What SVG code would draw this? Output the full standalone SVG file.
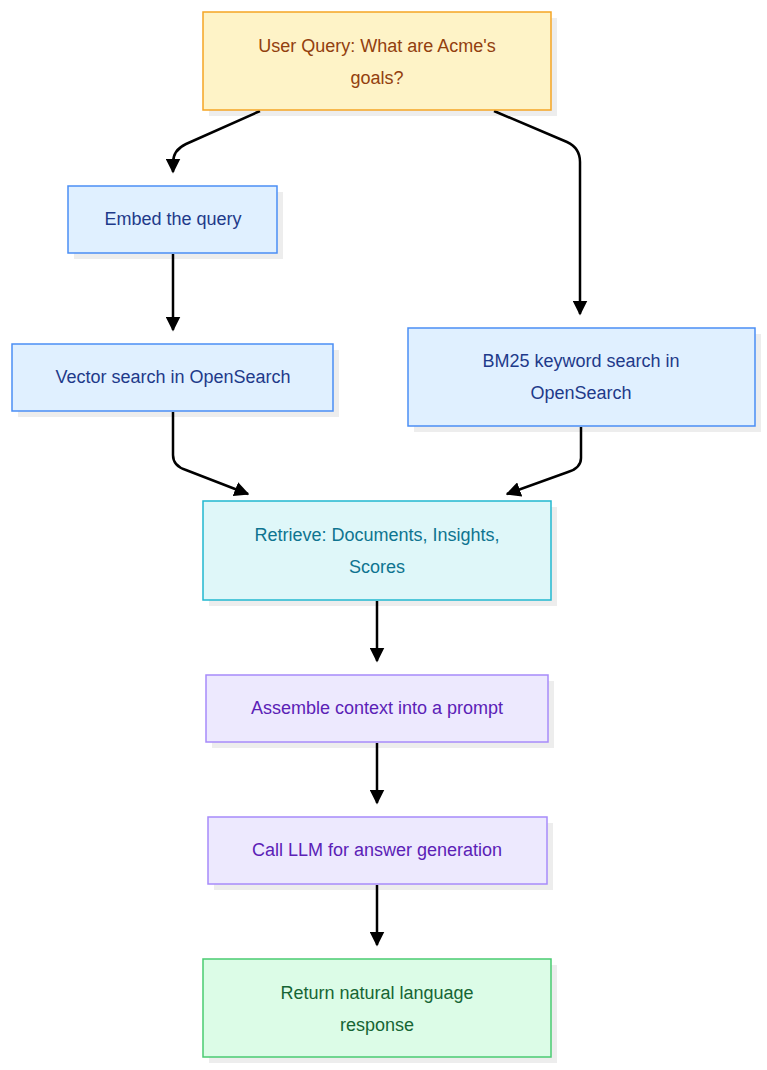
<svg xmlns="http://www.w3.org/2000/svg" width="767" height="1070" viewBox="0 0 767 1070">
<style>
text{font-family:"Liberation Sans",Arial,sans-serif;font-size:18px;text-anchor:middle}
.sh{fill:#000;opacity:0.07}
.e{fill:none;stroke:#000;stroke-width:2.5}
.y rect.b{fill:#FEF3C7;stroke:#F5A524;stroke-width:1.5}.y text{fill:#92400E}
.bl rect.b{fill:#E0F0FF;stroke:#4B8EF5;stroke-width:1.5}.bl text{fill:#1E3A8A}
.c rect.b{fill:#DFF7F9;stroke:#22B8CF;stroke-width:1.5}.c text{fill:#0E7490}
.p rect.b{fill:#EDE9FE;stroke:#A78BFA;stroke-width:1.5}.p text{fill:#5B21B6}
.g rect.b{fill:#DCFCE7;stroke:#4ACB72;stroke-width:1.5}.g text{fill:#166534}
</style>
<defs>
<marker id="ar" viewBox="0 0 10 10" refX="9" refY="5" markerWidth="6" markerHeight="6" orient="auto"><path d="M0,0L10,5L0,10z" fill="#000"/></marker></defs>
<g id="connectors">
<path class="e" marker-end="url(#ar)" d="M260,111 L186,144 Q173,150 173,163 L173,172"/>
<path class="e" marker-end="url(#ar)" d="M494,111 L567,142 Q580,148 580,162 L580,314"/>
<path class="e" marker-end="url(#ar)" d="M173,254 L173,330"/>
<path class="e" marker-end="url(#ar)" d="M173,412 L173,455 Q173,466 186,470 L248,494"/>
<path class="e" marker-end="url(#ar)" d="M581,427 L581,458 Q581,468 568,472 L507,494"/>
<path class="e" marker-end="url(#ar)" d="M377,601 L377,661"/>
<path class="e" marker-end="url(#ar)" d="M377,743 L377,803"/>
<path class="e" marker-end="url(#ar)" d="M377,885 L377,945"/>
</g>
<g id="query" class="y"><rect class="sh" x="209" y="18" width="348" height="98"/><rect class="b" x="203" y="12" width="348" height="98"/><text x="377" y="52">User Query: What are Acme's</text><text x="377" y="84">goals?</text></g>
<g id="embed" class="bl"><rect class="sh" x="74" y="192" width="209" height="67"/><rect class="b" x="68" y="186" width="209" height="67"/><text x="173" y="225">Embed the query</text></g>
<g id="vector" class="bl"><rect class="sh" x="18" y="350" width="321" height="67"/><rect class="b" x="12" y="344" width="321" height="67"/><text x="173" y="383">Vector search in OpenSearch</text></g>
<g id="bm25" class="bl"><rect class="sh" x="414" y="334" width="347" height="98"/><rect class="b" x="408" y="328" width="347" height="98"/><text x="581" y="367">BM25 keyword search in</text><text x="581" y="399">OpenSearch</text></g>
<g id="retrieve" class="c"><rect class="sh" x="209" y="507" width="348" height="99"/><rect class="b" x="203" y="501" width="348" height="99"/><text x="377" y="541">Retrieve: Documents, Insights,</text><text x="377" y="573">Scores</text></g>
<g id="assemble" class="p"><rect class="sh" x="212" y="681" width="342" height="67"/><rect class="b" x="206" y="675" width="342" height="67"/><text x="377" y="714">Assemble context into a prompt</text></g>
<g id="callllm" class="p"><rect class="sh" x="214" y="823" width="339" height="67"/><rect class="b" x="208" y="817" width="339" height="67"/><text x="377" y="856">Call LLM for answer generation</text></g>
<g id="return" class="g"><rect class="sh" x="209" y="965" width="348" height="98"/><rect class="b" x="203" y="959" width="348" height="98"/><text x="377" y="999">Return natural language</text><text x="377" y="1031">response</text></g>
</svg>
